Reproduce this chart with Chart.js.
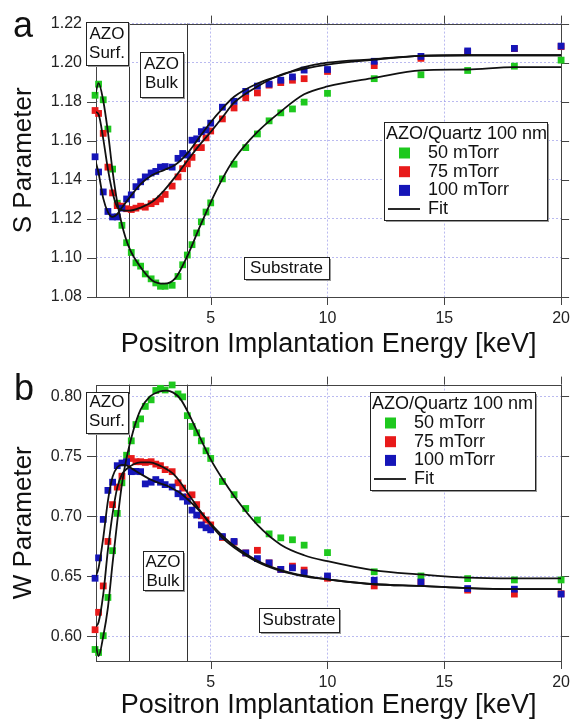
<!DOCTYPE html>
<html>
<head>
<meta charset="utf-8">
<script src="https://cdn.jsdelivr.net/npm/chart.js@4.4.1/dist/chart.umd.min.js"></script>
<style>
  html, body { margin: 0; padding: 0; background: #fff; }
  .panel { position: relative; width: 582px; height: 361px; }
</style>
</head>
<body>
<div class="panel"><canvas id="chartS"></canvas></div>
<div class="panel"><canvas id="chartW"></canvas></div>
<script>
// measured energies (keV)
const energy = [0.05, 0.2, 0.4, 0.6, 0.8, 1.0, 1.2, 1.4, 1.6, 1.8, 2.0, 2.2, 2.45, 2.65, 2.85, 3.05, 3.35, 3.6, 3.8, 4.0,
  4.2, 4.4, 4.6, 4.8, 5.0, 5.5, 6.0, 6.5, 7.0, 7.5, 8.0, 8.5, 9.0, 10, 12, 14, 16, 18, 20];

// S parameter
const s50 = [1.1833, 1.189, 1.181, 1.166, 1.1455, 1.128, 1.1167, 1.1078, 1.1028, 1.0975, 1.0958, 1.0918, 1.0893, 1.0872, 1.0855, 1.0855, 1.086, 1.0905, 1.0965, 1.1015,
  1.1068, 1.1128, 1.1185, 1.1235, 1.1282, 1.1405, 1.148, 1.1565, 1.1635, 1.1702, 1.1743, 1.1763, 1.1798, 1.1843, 1.1918, 1.1938, 1.196, 1.1982, 1.2013];
const s75 = [1.1755, 1.174, 1.1638, 1.1465, 1.1333, 1.1268, 1.1265, 1.1252, 1.1248, 1.1255, 1.1265, 1.126, 1.1278, 1.1288, 1.1302, 1.1325, 1.1368, 1.1415, 1.1457, 1.1482,
  1.1515, 1.1565, 1.1565, 1.1615, 1.165, 1.1712, 1.1768, 1.182, 1.1845, 1.1885, 1.1898, 1.191, 1.1918, 1.1955, 1.1985, 1.2022, 1.2052, 1.2072, 1.2082];
const s100 = [1.1518, 1.144, 1.1338, 1.1238, 1.121, 1.121, 1.1255, 1.1302, 1.1323, 1.1365, 1.139, 1.1415, 1.1435, 1.1443, 1.1465, 1.1468, 1.1465, 1.151, 1.1535, 1.1527,
  1.1603, 1.161, 1.1647, 1.1655, 1.169, 1.1772, 1.1802, 1.1853, 1.188, 1.189, 1.191, 1.1927, 1.1962, 1.1965, 1.2007, 1.2032, 1.206, 1.2073, 1.2085];

const fitEnergyS = [0.05, 0.2, 0.4, 0.6, 0.8, 1.0, 1.2, 1.5, 2.0, 2.5, 3.0, 3.5, 4.0, 4.5, 5.0, 5.5, 6.0, 7.0, 8.0, 9.0, 10, 12, 14, 16, 18, 20];
const fitS50 = [1.183, 1.1895, 1.1805, 1.1645, 1.1445, 1.1285, 1.117, 1.1055, 1.0952, 1.0885, 1.0868, 1.0898, 1.101, 1.115, 1.1285, 1.1405, 1.1505, 1.1645, 1.175, 1.1838, 1.1878, 1.1922, 1.196, 1.1965, 1.1977, 1.1977];
const fitS75 = [1.1748, 1.1735, 1.161, 1.1455, 1.1335, 1.126, 1.1245, 1.1242, 1.1258, 1.1288, 1.1345, 1.1418, 1.1498, 1.1575, 1.1645, 1.172, 1.1795, 1.1878, 1.1938, 1.1968, 1.199, 1.2015, 1.2035, 1.2038, 1.2038, 1.2038];
const fitS100 = [1.1505, 1.1435, 1.1305, 1.1235, 1.121, 1.1225, 1.1258, 1.1305, 1.1378, 1.1425, 1.145, 1.1478, 1.1535, 1.1615, 1.1695, 1.1765, 1.1825, 1.1893, 1.1935, 1.1977, 1.2, 1.2018, 1.2035, 1.2038, 1.2038, 1.2038];

// W parameter
const w50 = [0.589, 0.5865, 0.6005, 0.6324, 0.6714, 0.7025, 0.728, 0.751, 0.763, 0.7766, 0.7813, 0.7917, 0.7972, 0.805, 0.8068, 0.8054, 0.8096, 0.8021, 0.7997, 0.784,
  0.775, 0.7697, 0.763, 0.7547, 0.7483, 0.7291, 0.7181, 0.7066, 0.697, 0.6854, 0.6821, 0.6805, 0.676, 0.6698, 0.6538, 0.6503, 0.6481, 0.647, 0.647];
const w75 = [0.6055, 0.62, 0.642, 0.6791, 0.7098, 0.7244, 0.7335, 0.745, 0.7483, 0.7456, 0.7456, 0.745, 0.7456, 0.7436, 0.7423, 0.739, 0.7373, 0.728, 0.7236, 0.7162,
  0.718, 0.7098, 0.7005, 0.697, 0.6929, 0.6824, 0.6785, 0.6695, 0.6717, 0.6612, 0.6558, 0.6585, 0.6552, 0.6484, 0.642, 0.6448, 0.6385, 0.6352, 0.6355];
const w100 = [0.6484, 0.6654, 0.6975, 0.7217, 0.7285, 0.7423, 0.7445, 0.7456, 0.7373, 0.7375, 0.7373, 0.7271, 0.7285, 0.7307, 0.7285, 0.7265, 0.7245, 0.7189, 0.7162, 0.7126,
  0.7052, 0.7011, 0.6929, 0.6905, 0.6888, 0.6832, 0.6791, 0.6695, 0.6648, 0.6612, 0.6558, 0.6571, 0.653, 0.6503, 0.6467, 0.6453, 0.6398, 0.6393, 0.6352];

const fitEnergyW = [0.05, 0.2, 0.4, 0.6, 0.8, 1.0, 1.2, 1.4, 1.7, 2.0, 2.4, 2.8, 3.1, 3.4, 3.7, 4.0, 4.5, 5.0, 5.5, 6.0, 7.0, 8.0, 9.0, 10, 12, 14, 16, 18, 20];
const fitW50 = [0.5967, 0.5835, 0.600, 0.624, 0.661, 0.6956, 0.727, 0.749, 0.7725, 0.789, 0.80, 0.804, 0.8049, 0.8032, 0.798, 0.788, 0.7675, 0.7475, 0.7313, 0.717, 0.6929, 0.6764, 0.6676, 0.6626, 0.655, 0.6516, 0.6489, 0.6483, 0.6483];
const fitW75 = [0.6077, 0.6118, 0.635, 0.672, 0.702, 0.724, 0.735, 0.7395, 0.7435, 0.745, 0.745, 0.7425, 0.7395, 0.7354, 0.7285, 0.720, 0.706, 0.693, 0.682, 0.674, 0.662, 0.6545, 0.650, 0.6475, 0.6434, 0.642, 0.6401, 0.6393, 0.6393];
const fitW100 = [0.6489, 0.657, 0.682, 0.713, 0.733, 0.741, 0.743, 0.7425, 0.739, 0.7354, 0.731, 0.7278, 0.7258, 0.7228, 0.7195, 0.7145, 0.705, 0.694, 0.684, 0.6755, 0.663, 0.6552, 0.6505, 0.6475, 0.6434, 0.642, 0.6401, 0.6393, 0.6393];

const seriesNames = ["50 mTorr", "75 mTorr", "100 mTorr"];
const legendTitle = "AZO/Quartz 100 nm";
const fitName = "Fit";
const xTicks = [5, 10, 15, 20];
const sTicks = [1.08, 1.10, 1.12, 1.14, 1.16, 1.18, 1.20, 1.22];
const wTicks = [0.60, 0.65, 0.70, 0.75, 0.80];
const regionBounds = [1.5, 4.0];
const regionNames = [["AZO", "Surf."], ["AZO", "Bulk"], ["Substrate"]];
const xTitle = "Positron Implantation Energy [keV]";

const seriesColors = ["#1ec81e", "#e81a1a", "#1515b8"];
const gridColor = "rgba(140,140,230,0.6)";

Chart.defaults.font.family = "'Liberation Sans', Arial, sans-serif";
Chart.defaults.color = "#222";

function box(ctx, l, t, w, h) {
  ctx.fillStyle = "#999";
  ctx.fillRect(l + 2, t + 2, w, h);
  ctx.fillStyle = "#fff";
  ctx.fillRect(l, t, w, h);
  ctx.strokeStyle = "#222";
  ctx.lineWidth = 1;
  ctx.strokeRect(l + 0.5, t + 0.5, w, h);
}

function decor(p) {
  return {
    id: "decor",
    beforeDatasetsDraw(chart) {
      const { ctx, chartArea: a, scales: { x, y } } = chart;
      ctx.save();
      ctx.lineWidth = 1;
      ctx.strokeStyle = "#333";
      regionBounds.forEach(v => {
        const px = Math.round(x.getPixelForValue(v)) + 0.5;
        ctx.beginPath(); ctx.moveTo(px, a.top); ctx.lineTo(px, a.bottom); ctx.stroke();
      });
      ctx.strokeStyle = "#444";
      ctx.strokeRect(Math.round(a.left) + 0.5, Math.round(a.top) + 0.5, Math.round(a.right - a.left), Math.round(a.bottom - a.top));
      ctx.beginPath();
      y.ticks.forEach(t => {
        const py = Math.round(y.getPixelForValue(t.value)) + 0.5;
        ctx.moveTo(a.left - 9, py); ctx.lineTo(a.left, py);
        ctx.moveTo(a.right, py); ctx.lineTo(a.right + 8, py);
      });
      x.ticks.forEach(t => {
        const px = Math.round(x.getPixelForValue(t.value)) + 0.5;
        ctx.moveTo(px, a.bottom); ctx.lineTo(px, a.bottom + 8);
        ctx.moveTo(px, a.top - 8); ctx.lineTo(px, a.top);
      });
      ctx.stroke();
      ctx.restore();
    },
    afterDatasetsDraw(chart) {
      const ctx = chart.ctx;
      ctx.save();
      // region labels
      ctx.font = "17px 'Liberation Sans', Arial, sans-serif";
      ctx.textAlign = "center";
      ctx.textBaseline = "middle";
      p.regions.forEach((r, i) => {
        box(ctx, r.l, r.t, r.w, r.h);
        ctx.fillStyle = "#111";
        regionNames[i].forEach((line, j) => {
          ctx.fillText(line, r.l + r.w / 2, r.t + r.first + j * 19);
        });
      });
      // legend
      const L = p.legend;
      box(ctx, L.l, L.t, L.w, L.h);
      ctx.font = "18px 'Liberation Sans', Arial, sans-serif";
      ctx.textAlign = "left";
      ctx.fillStyle = "#111";
      ctx.fillText(legendTitle, L.l + 2, L.t + 12);
      seriesNames.forEach((name, k) => {
        const cy = L.t + 31 + k * 18.7;
        ctx.fillStyle = seriesColors[k];
        ctx.fillRect(L.l + 15, cy - 5.5, 11, 11);
        ctx.fillStyle = "#111";
        ctx.fillText(name, L.l + 44, cy);
      });
      const fy = L.t + 87;
      ctx.strokeStyle = "#111";
      ctx.lineWidth = 1.8;
      ctx.beginPath(); ctx.moveTo(L.l + 4, fy); ctx.lineTo(L.l + 36, fy); ctx.stroke();
      ctx.fillText(fitName, L.l + 44, fy);
      // panel letter
      ctx.font = "36px 'Liberation Sans', Arial, sans-serif";
      ctx.textBaseline = "alphabetic";
      ctx.fillText(p.letter, p.letterX, p.letterY);
      ctx.restore();
    }
  };
}

function buildChart(id, p) {
  const datasets = [];
  p.fits.forEach(vals => datasets.push({
    label: fitName,
    data: p.fitX.map((x, i) => ({ x: x, y: vals[i] })),
    showLine: true,
    borderColor: "#111",
    borderWidth: 1.8,
    pointRadius: 0,
    cubicInterpolationMode: "monotone",
    order: 0
  }));
  p.points.forEach((vals, k) => datasets.push({
    label: seriesNames[k],
    data: energy.map((x, i) => ({ x: x, y: vals[i] })),
    pointStyle: "rect",
    pointRadius: 4.8,
    backgroundColor: seriesColors[k],
    borderWidth: 0,
    clip: false,
    order: 3 - k
  }));

  new Chart(document.getElementById(id), {
    type: "scatter",
    data: { datasets: datasets },
    options: {
      animation: false,
      responsive: true,
      maintainAspectRatio: false,
      layout: { padding: { left: 0, right: 12, top: p.padTop, bottom: 0 } },
      plugins: { legend: { display: false }, tooltip: { enabled: false } },
      scales: {
        x: {
          type: "linear",
          min: 0.09,
          max: 20,
          afterBuildTicks: s => { s.ticks = xTicks.map(v => ({ value: v })); },
          afterFit: s => { s.height = p.xHeight; },
          ticks: { font: { size: 16 }, padding: 12, maxRotation: 0, autoSkip: false, callback: v => String(v) },
          grid: { color: gridColor, drawTicks: false },
          border: { display: false, dash: [2, 2] },
          title: { display: true, text: xTitle, font: { size: 27 }, color: "#111", padding: { top: 0, bottom: 0 } }
        },
        y: {
          min: p.yMin,
          max: p.yMax,
          afterBuildTicks: s => { s.ticks = p.yTicks.map(v => ({ value: v })); },
          afterFit: s => { s.width = 96; },
          ticks: { font: { size: 16 }, padding: 14, callback: v => v.toFixed(2) },
          grid: { color: gridColor, drawTicks: false },
          border: { display: false, dash: [2, 2] },
          title: { display: true, text: p.yTitle, font: { size: 26 }, color: "#111", padding: { top: 8, bottom: 0 } }
        }
      }
    },
    plugins: [decor(p)]
  });
}

buildChart("chartS", {
  points: [s50, s75, s100],
  fits: [fitS50, fitS75, fitS100],
  fitX: fitEnergyS,
  yMin: 1.08, yMax: 1.22, yTicks: sTicks,
  yTitle: "S Parameter",
  padTop: 17, xHeight: 64,
  letter: "a", letterX: 13, letterY: 37,
  regions: [
    { l: 86, t: 22, w: 42, h: 43, first: 12 },
    { l: 140, t: 52, w: 43, h: 45, first: 12.5 },
    { l: 244, t: 257, w: 85, h: 22, first: 11.5 }
  ],
  legend: { l: 384, t: 122, w: 163, h: 98 }
});

buildChart("chartW", {
  points: [w50, w75, w100],
  fits: [fitW50, fitW75, fitW100],
  fitX: fitEnergyW,
  yMin: 0.5794, yMax: 0.8099, yTicks: wTicks,
  yTitle: "W Parameter",
  padTop: 20, xHeight: 61,
  letter: "b", letterX: 14, letterY: 39,
  regions: [
    { l: 86, t: 31, w: 42, h: 41, first: 10.5 },
    { l: 143, t: 190, w: 40, h: 39, first: 11 },
    { l: 259, t: 247, w: 80, h: 24, first: 12 }
  ],
  legend: { l: 370, t: 31, w: 165, h: 98 }
});
</script>
</body>
</html>
